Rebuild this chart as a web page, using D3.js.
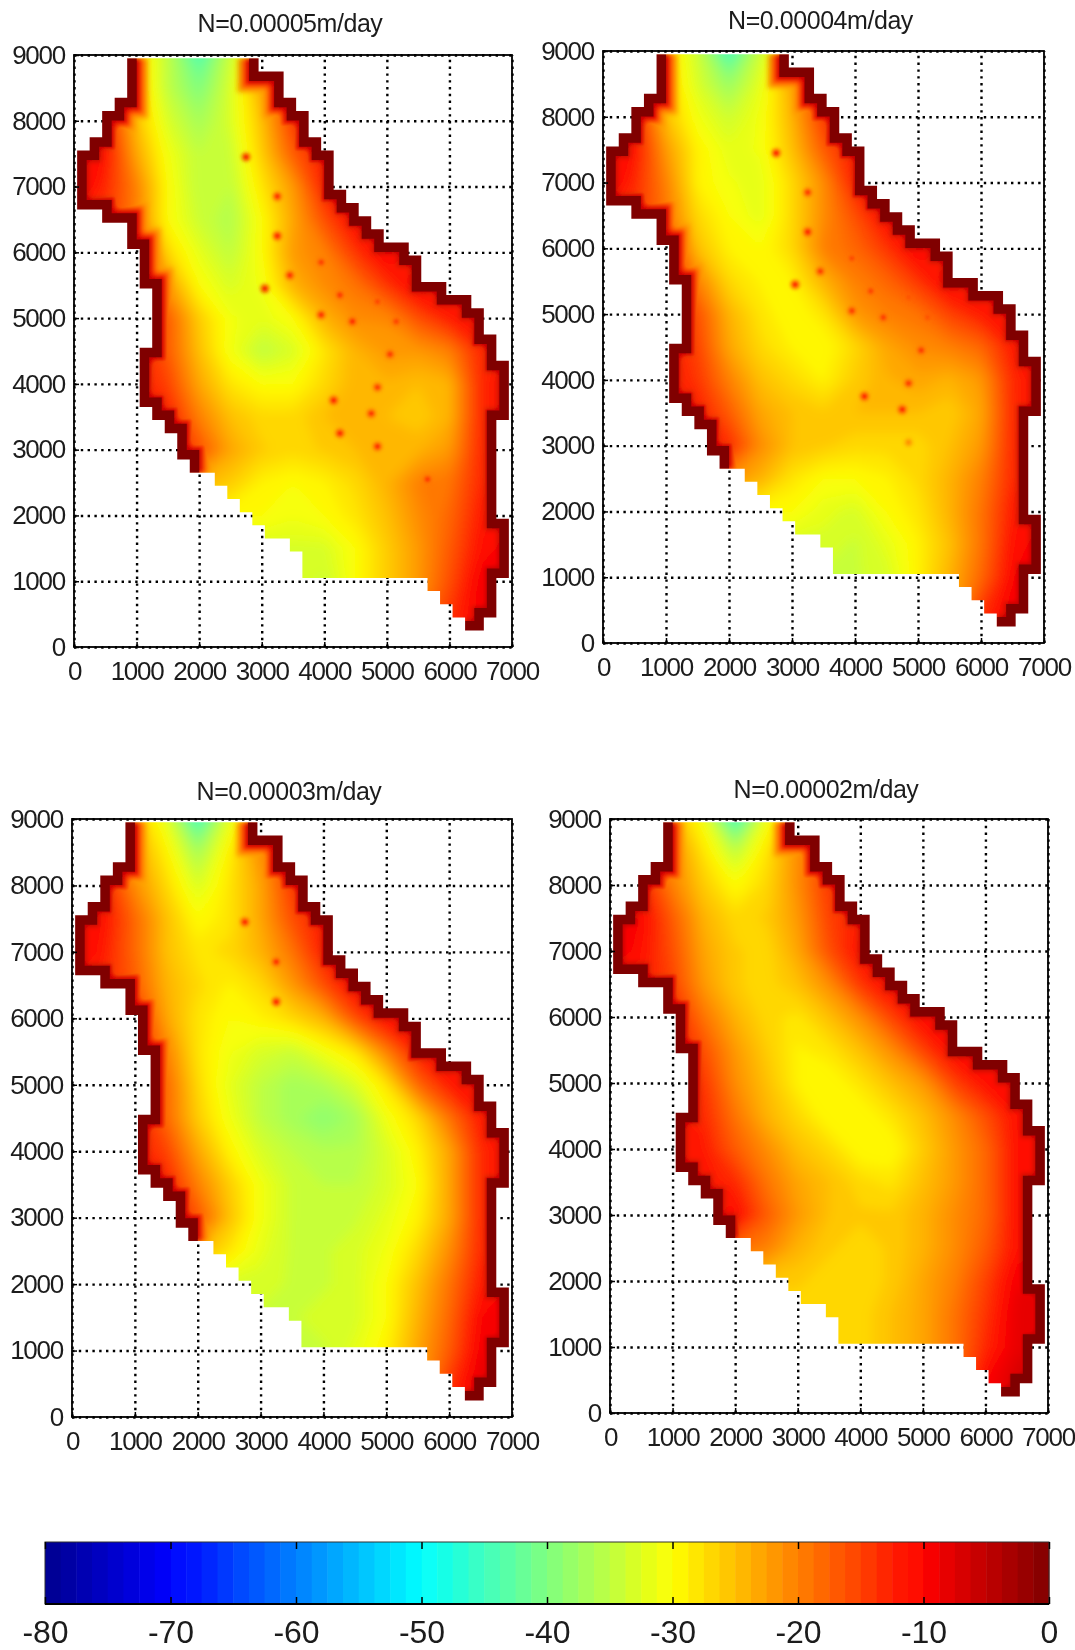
<!DOCTYPE html>
<html>
<head>
<meta charset="utf-8">
<script src="https://cdn.jsdelivr.net/npm/d3@7"></script>
<style>
  html, body { margin: 0; background: #fff; }
  svg { display: block; }
  text { font-family: "Liberation Sans", Arial, sans-serif; fill: #1c1c1c; }
  .axis path { display: none; }
  .axis line { stroke: #000; stroke-width: 1.5; }
  .grid path { display: none; }
  .grid line { stroke: #000; stroke-width: 2.4; stroke-dasharray: 2.4 4.4; }
</style>
</head>
<body>
<div id="chart"></div>
<script>
// model boundary, shared by the four runs (metres)
const outline = [
  [850,8950],[850,8350],[650,8350],[650,8150],[450,8150],[450,7750],[250,7750],[250,7550],[50,7550],
  [50,6650],[450,6650],[450,6450],[850,6450],[850,6050],[1050,6050],[1050,5450],[1250,5450],[1250,4550],
  [1050,4550],[1050,3650],[1250,3650],[1250,3450],[1450,3450],[1450,3250],[1650,3250],[1650,2850],
  [1850,2850],[1850,2650],[2250,2650],[2250,2450],[2450,2450],[2450,2250],[2650,2250],[2650,2050],
  [2850,2050],[2850,1850],[3050,1850],[3050,1650],[3450,1650],[3450,1450],[3650,1450],[3650,1050],
  [5650,1050],[5650,850],[5850,850],[5850,650],[6050,650],[6050,450],[6250,450],[6250,250],[6550,250],
  [6550,450],[6750,450],[6750,1050],[6950,1050],[6950,1950],[6750,1950],[6750,3450],[6950,3450],
  [6950,4350],[6750,4350],[6750,4750],[6550,4750],[6550,5150],[6350,5150],[6350,5350],[5950,5350],
  [5950,5550],[5550,5550],[5550,5950],[5350,5950],[5350,6150],[4950,6150],[4950,6350],[4750,6350],
  [4750,6550],[4550,6550],[4550,6750],[4350,6750],[4350,6950],[4150,6950],[4150,7550],[3950,7550],
  [3950,7750],[3750,7750],[3750,8150],[3550,8150],[3550,8350],[3350,8350],[3350,8750],[2950,8750],[2950,8950]
];
// the fixed-head parts of the boundary, as index ranges into outline
const rimRanges = [[0, 27], [49, 91]];

// wells: x, y
const wells = [
  [2750,7450],[3250,6850],[3250,6250],[3950,5850],[3450,5650],[3050,5450],[4250,5350],[4850,5250],[3950,5050],
  [4450,4950],[5150,4950],[5050,4450],[4850,3950],[4150,3750],[4750,3550],[4250,3250],[4850,3050],[5650,2550]
];
// how strongly each well shows in each run
const wellsN5 = [1,.9,1,.7,.9,1,.8,.5,.9,.9,.6,.8,.8,1,.9,1,.9,.8];
const wellsN4 = [1,.8,1,.5,.8,1,.6,.2,.8,.7,.3,.8,.8,1,1,0,.3,0];
const wellsN3 = [1,.9,1,0,0,0,0,0,0,0,0,0,0,0,0,0,0,0];
const wellsN2 = [0,0,0,0,0,0,0,0,0,0,0,0,0,0,0,0,0,0];

// head grids read at 500 m spacing: rows run y=9000..0, columns x=0..7000
const fieldN5 = [
  -20,-20,-27,-35,-44,-34,-25,-20,-18,-16,-14,-12,-12,-12,-12,
  -18,-18,-26,-35,-40,-33,-23,-16,-16,-15,-14,-12,-12,-12,-12,
  -12,-12,-25,-33,-37,-33,-25,-14,-15,-14,-13,-12,-12,-12,-12,
  -10,-11,-23,-31,-35,-34,-26,-17,-12,-14,-13,-12,-12,-12,-12,
  -8,-13,-20,-30,-35,-35,-28,-22,-12,-12,-13,-12,-12,-12,-12,
  -12,-14,-20,-30,-34,-36,-30,-23,-16,-10,-12,-12,-12,-12,-12,
  -12,-12,-12,-27,-32,-35,-30,-22,-20,-14,-9,-12,-12,-12,-12,
  -12,-12,-12,-22,-30,-33,-31,-24,-21,-19,-14,-9,-12,-12,-12,
  -12,-12,-12,-17,-26,-31,-32,-30,-24,-21,-21,-16,-12,-11,-12,
  -12,-12,-12,-17,-25,-31,-35,-33,-28,-24,-22,-22,-20,-13,-12,
  -12,-12,-12,-15,-23,-28,-30,-30,-27,-24,-24,-25,-24,-13,-11,
  -12,-12,-12,-12,-20,-25,-27,-27,-25,-24,-25,-26,-24,-13,-11,
  -12,-12,-12,-12,-16,-23,-26,-27,-26,-25,-25,-24,-22,-13,-11,
  -26,-26,-26,-26,-24,-26,-29,-30,-29,-27,-24,-20,-19,-13,-11,
  -30,-30,-30,-30,-30,-30,-30,-31,-30,-28,-25,-21,-18,-12,-10,
  -33,-33,-33,-33,-33,-33,-33,-33,-33,-30,-26,-22,-17,-11,-9,
  -33,-33,-33,-33,-33,-33,-33,-33,-34,-30,-26,-22,-16,-9,-8,
  -33,-33,-33,-33,-33,-33,-33,-33,-34,-30,-26,-20,-14,-9,-8,
  -33,-33,-33,-33,-33,-33,-33,-33,-34,-30,-26,-20,-14,-9,-8
];
const fieldN4 = [
  -20,-20,-27,-34,-45,-34,-25,-20,-18,-16,-14,-12,-12,-12,-12,
  -18,-18,-26,-33,-38,-32,-23,-15,-15,-14,-13,-12,-12,-12,-12,
  -12,-12,-25,-31,-34,-31,-24,-14,-14,-14,-13,-12,-12,-12,-12,
  -10,-11,-22,-29,-32,-31,-25,-17,-12,-13,-13,-12,-12,-12,-12,
  -8,-13,-20,-29,-31,-32,-27,-21,-12,-12,-13,-12,-12,-12,-12,
  -12,-14,-19,-27,-30,-32,-27,-21,-16,-10,-12,-12,-12,-12,-12,
  -12,-12,-12,-25,-29,-30,-27,-20,-18,-14,-9,-12,-12,-12,-12,
  -12,-12,-12,-20,-27,-29,-29,-24,-20,-18,-14,-9,-12,-12,-12,
  -12,-12,-12,-16,-24,-28,-30,-28,-22,-20,-19,-15,-12,-11,-12,
  -12,-12,-12,-15,-23,-27,-29,-30,-27,-23,-21,-20,-18,-12,-12,
  -12,-12,-12,-14,-20,-25,-27,-29,-26,-24,-23,-24,-22,-13,-11,
  -12,-12,-12,-12,-17,-23,-25,-26,-25,-25,-25,-26,-23,-13,-11,
  -12,-12,-12,-12,-13,-21,-25,-26,-27,-27,-27,-25,-22,-13,-11,
  -24,-24,-24,-24,-21,-24,-28,-30,-30,-29,-27,-24,-20,-13,-11,
  -30,-30,-30,-30,-30,-30,-30,-32,-33,-30,-28,-24,-19,-12,-10,
  -33,-33,-33,-33,-33,-33,-33,-33,-34,-32,-29,-25,-19,-11,-9,
  -34,-34,-34,-34,-34,-34,-34,-34,-34,-33,-29,-24,-18,-10,-8,
  -34,-34,-34,-34,-34,-34,-34,-34,-34,-33,-29,-24,-14,-9,-8,
  -34,-34,-34,-34,-34,-34,-34,-34,-34,-33,-29,-24,-14,-9,-8
];
const fieldN3 = [
  -20,-20,-25,-32,-45,-32,-24,-20,-18,-16,-14,-12,-12,-12,-12,
  -18,-18,-23,-29,-37,-29,-21,-15,-15,-14,-13,-12,-12,-12,-12,
  -12,-12,-21,-27,-33,-28,-23,-14,-14,-14,-13,-12,-12,-12,-12,
  -10,-11,-18,-25,-30,-28,-23,-16,-12,-13,-13,-12,-12,-12,-12,
  -8,-12,-18,-25,-28,-27,-24,-19,-12,-12,-13,-12,-12,-12,-12,
  -12,-13,-17,-24,-27,-29,-27,-22,-16,-10,-12,-12,-12,-12,-12,
  -12,-12,-12,-23,-28,-30,-29,-27,-24,-16,-10,-12,-12,-12,-12,
  -12,-12,-12,-20,-28,-31,-33,-34,-31,-28,-20,-12,-12,-12,-12,
  -12,-12,-12,-18,-27,-32,-35,-37,-36,-33,-28,-18,-12,-11,-12,
  -12,-12,-12,-18,-26,-31,-35,-37,-39,-37,-31,-27,-19,-12,-12,
  -12,-12,-12,-15,-23,-29,-33,-35,-36,-36,-33,-29,-23,-13,-11,
  -12,-12,-12,-12,-20,-26,-31,-34,-35,-35,-33,-30,-23,-13,-11,
  -12,-12,-12,-12,-16,-25,-31,-34,-35,-34,-32,-29,-23,-13,-11,
  -28,-28,-28,-28,-24,-28,-32,-34,-34,-33,-31,-27,-21,-13,-11,
  -33,-33,-33,-33,-33,-33,-33,-34,-34,-33,-30,-25,-19,-12,-10,
  -34,-34,-34,-34,-34,-34,-34,-34,-33,-33,-30,-24,-18,-10,-9,
  -35,-35,-35,-35,-35,-35,-35,-35,-34,-32,-29,-23,-17,-9,-8,
  -35,-35,-35,-35,-35,-35,-35,-35,-34,-32,-29,-23,-14,-8,-8,
  -35,-35,-35,-35,-35,-35,-35,-35,-34,-32,-29,-23,-14,-8,-8
];
const fieldN2 = [
  -20,-20,-24,-31,-45,-31,-24,-20,-18,-16,-14,-12,-12,-12,-12,
  -18,-18,-21,-28,-35,-28,-21,-15,-15,-14,-13,-12,-12,-12,-12,
  -12,-12,-20,-26,-30,-27,-21,-14,-14,-14,-13,-12,-12,-12,-12,
  -10,-10,-17,-24,-27,-26,-22,-15,-12,-13,-13,-12,-12,-12,-12,
  -8,-11,-16,-23,-26,-27,-23,-16,-11,-12,-12,-12,-12,-12,-12,
  -12,-12,-15,-22,-26,-27,-25,-21,-14,-10,-11,-11,-11,-11,-11,
  -12,-12,-12,-19,-24,-27,-28,-25,-21,-15,-10,-11,-11,-11,-11,
  -12,-12,-12,-16,-22,-26,-29,-28,-25,-21,-15,-10,-11,-11,-11,
  -12,-12,-12,-14,-21,-25,-29,-30,-28,-25,-22,-15,-11,-11,-11,
  -12,-12,-12,-13,-19,-24,-27,-30,-30,-28,-25,-21,-16,-11,-11,
  -12,-12,-12,-12,-17,-21,-25,-27,-30,-30,-26,-22,-18,-11,-10,
  -12,-12,-12,-12,-13,-19,-23,-25,-27,-28,-25,-22,-18,-11,-10,
  -12,-12,-12,-12,-10,-17,-22,-25,-26,-26,-24,-21,-18,-11,-10,
  -20,-20,-20,-20,-18,-20,-24,-26,-27,-26,-24,-21,-17,-11,-10,
  -26,-26,-26,-26,-26,-26,-26,-27,-27,-26,-23,-20,-15,-9,-9,
  -27,-27,-27,-27,-27,-27,-27,-27,-27,-25,-23,-19,-14,-8,-8,
  -27,-27,-27,-27,-27,-27,-27,-27,-27,-25,-23,-19,-13,-8,-7,
  -27,-27,-27,-27,-27,-27,-27,-27,-27,-25,-23,-19,-10,-7,-7,
  -27,-27,-27,-27,-27,-27,-27,-27,-27,-25,-23,-19,-10,-7,-7
];

const titles = ["N=0.00005m/day", "N=0.00004m/day", "N=0.00003m/day", "N=0.00002m/day"];
const fields = [fieldN5, fieldN4, fieldN3, fieldN2];
const wellStrengths = [wellsN5, wellsN4, wellsN3, wellsN2];
const xTicks = [0, 1000, 2000, 3000, 4000, 5000, 6000, 7000];
const yTicks = [0, 1000, 2000, 3000, 4000, 5000, 6000, 7000, 8000, 9000];
const barTicks = [-80, -70, -60, -50, -40, -30, -20, -10, 0];

// jet colormap anchors
const jetValues = [-80, -70, -50, -30, -10, 0];
const jetColors = ["#00008f", "#0000ff", "#00ffff", "#ffff00", "#ff0000", "#800000"];

const W = 1075, H = 1650;
const NX = 15, NY = 19, NLEVELS = 64;
const boxes = [
  { left: 74, right: 512, top: 55, bottom: 647, titleY: 32 },
  { left: 603, right: 1044, top: 51, bottom: 643, titleY: 29 },
  { left: 72, right: 512, top: 819, bottom: 1417, titleY: 800 },
  { left: 610, right: 1048, top: 819, bottom: 1413, titleY: 798 }
];
const barBox = { left: 45, right: 1049, top: 1542, bottom: 1604 };

const jet = d3.scaleLinear().domain(jetValues).range(jetColors).interpolate(d3.interpolateRgb);
const levelStep = 80 / NLEVELS;
const levels = d3.range(NLEVELS).map(i => -80 + i * levelStep);
const levelColor = t => jet(t + levelStep / 2);

const svg = d3.select("#chart").append("svg").attr("width", W).attr("height", H);
const defs = svg.append("defs");

function addBlur(id, sd) {
  defs.append("filter")
    .attr("id", id)
    .attr("filterUnits", "userSpaceOnUse")
    .attr("x", 0).attr("y", 0).attr("width", W).attr("height", H)
    .append("feGaussianBlur")
    .attr("stdDeviation", sd);
}
addBlur("soft", 0.55);
addBlur("fieldBlur", 6);
addBlur("rimBlur", 2.5);
addBlur("wellBlur", 1.6);

// the reference is a slightly soft bitmap
const root = svg.append("g").attr("filter", "url(#soft)");
root.append("rect").attr("width", W).attr("height", H).attr("fill", "#fff");

// rim bands, widest first: half width in px, colour
const rimBands = [[21, "#ffa000"], [17.5, "#ff6000"], [14.5, "#ff0000"], [11.5, "#c00000"]];

function drawPanel(i) {
  const box = boxes[i];
  const x = d3.scaleLinear().domain([0, 7000]).range([box.left, box.right]);
  const y = d3.scaleLinear().domain([0, 9000]).range([box.bottom, box.top]);
  const g = root.append("g");

  // grid underneath the field
  g.append("g").attr("class", "grid")
    .attr("transform", `translate(0,${box.bottom})`)
    .call(d3.axisBottom(x).tickValues(xTicks).tickSize(box.top - box.bottom).tickFormat(""));
  g.append("g").attr("class", "grid")
    .attr("transform", `translate(${box.left},0)`)
    .call(d3.axisLeft(y).tickValues(yTicks).tickSize(box.left - box.right).tickFormat(""));

  const line = d3.line().x(d => x(d[0])).y(d => y(d[1]));
  const clipId = `clip${i}`;
  defs.append("clipPath").attr("id", clipId).append("path").attr("d", line(outline) + "Z");

  const map = g.append("g").attr("clip-path", `url(#${clipId})`).style("isolation", "isolate");

  // field as filled contours of the coarse grid
  const gx = d3.scaleLinear().domain([0.5, NX - 0.5]).range([0, 7000]);
  const gy = d3.scaleLinear().domain([0.5, NY - 0.5]).range([9000, 0]);
  const toScreen = d3.geoTransform({
    point(px, py) { this.stream.point(x(gx(px)), y(gy(py))); }
  });
  const contours = d3.contours().size([NX, NY]).thresholds(levels)(fields[i]);
  map.append("g").attr("filter", "url(#fieldBlur)").selectAll("path")
    .data(contours)
    .join("path")
    .attr("d", d3.geoPath(toScreen))
    .attr("fill", d => levelColor(d.value));

  // rim and wells only ever push the field towards zero, so blend with darken
  const rimLines = rimRanges.map(([a, b]) => outline.slice(a, b + 1));
  const rim = map.append("g").attr("filter", "url(#rimBlur)").style("mix-blend-mode", "darken");
  rimBands.forEach(([half, colour]) => {
    rim.selectAll(null).data(rimLines).join("path")
      .attr("d", line)
      .attr("fill", "none")
      .attr("stroke", colour)
      .attr("stroke-width", half * 2)
      .attr("stroke-linejoin", "miter");
  });

  const wellG = map.append("g").attr("filter", "url(#wellBlur)").style("mix-blend-mode", "darken");
  wells.forEach((w, k) => {
    const s = wellStrengths[i][k];
    if (!s) return;
    wellG.append("circle").attr("cx", x(w[0])).attr("cy", y(w[1])).attr("r", 5.5)
      .attr("fill", "#ff7000").attr("opacity", s * 0.6);
    wellG.append("circle").attr("cx", x(w[0])).attr("cy", y(w[1])).attr("r", 2.8)
      .attr("fill", "#ff2000").attr("opacity", s);
  });

  // hard dark band along the fixed-head cells
  map.selectAll(null).data(rimLines).join("path")
    .attr("d", line)
    .attr("fill", "none")
    .attr("stroke", "#800000")
    .attr("stroke-width", 19)
    .attr("stroke-linejoin", "miter");

  // frame
  g.append("rect")
    .attr("x", box.left).attr("y", box.top)
    .attr("width", box.right - box.left).attr("height", box.bottom - box.top)
    .attr("fill", "none").attr("stroke", "#000").attr("stroke-width", 1.8);

  const xAxis = g.append("g").attr("class", "axis")
    .attr("transform", `translate(0,${box.bottom})`)
    .call(d3.axisBottom(x).tickValues(xTicks).tickFormat(d3.format("d")).tickSize(-5).tickPadding(15));
  const yAxis = g.append("g").attr("class", "axis")
    .attr("transform", `translate(${box.left},0)`)
    .call(d3.axisLeft(y).tickValues(yTicks).tickFormat(d3.format("d")).tickSize(-5).tickPadding(9));
  [xAxis, yAxis].forEach(a => a.selectAll("text")
    .style("font-size", "26px").style("letter-spacing", "-1.25px").attr("fill", "#1c1c1c"));

  root.append("text")
    .attr("x", (box.left + box.right) / 2 - 3)
    .attr("y", box.titleY)
    .attr("text-anchor", "middle")
    .style("font-size", "25px")
    .style("letter-spacing", "-0.45px")
    .text(titles[i]);
}

d3.range(4).forEach(drawPanel);

// colour bar
const bx = d3.scaleLinear().domain([-80, 0]).range([barBox.left, barBox.right]);
const barG = root.append("g");
barG.selectAll("rect")
  .data(levels)
  .join("rect")
  .attr("x", d => bx(d))
  .attr("y", barBox.top)
  .attr("width", d => bx(d + levelStep) - bx(d) + 0.5)
  .attr("height", barBox.bottom - barBox.top)
  .attr("fill", levelColor);
barG.append("rect")
  .attr("x", barBox.left).attr("y", barBox.top)
  .attr("width", barBox.right - barBox.left).attr("height", barBox.bottom - barBox.top)
  .attr("fill", "none").attr("stroke", "#333").attr("stroke-width", 1);
barG.append("line")
  .attr("x1", barBox.left).attr("x2", barBox.right)
  .attr("y1", barBox.bottom).attr("y2", barBox.bottom)
  .attr("stroke", "#000").attr("stroke-width", 2);

const barAxis = barG.append("g").attr("class", "axis")
  .attr("transform", `translate(0,${barBox.bottom})`)
  .call(d3.axisBottom(bx).tickValues(barTicks).tickFormat(d => String(d)).tickSize(-7).tickPadding(16));
barAxis.selectAll("text").style("font-size", "32px").attr("fill", "#1c1c1c");
barG.append("g").attr("class", "axis")
  .attr("transform", `translate(0,${barBox.top})`)
  .call(d3.axisTop(bx).tickValues(barTicks).tickFormat("").tickSize(-7));
</script>
</body>
</html>
